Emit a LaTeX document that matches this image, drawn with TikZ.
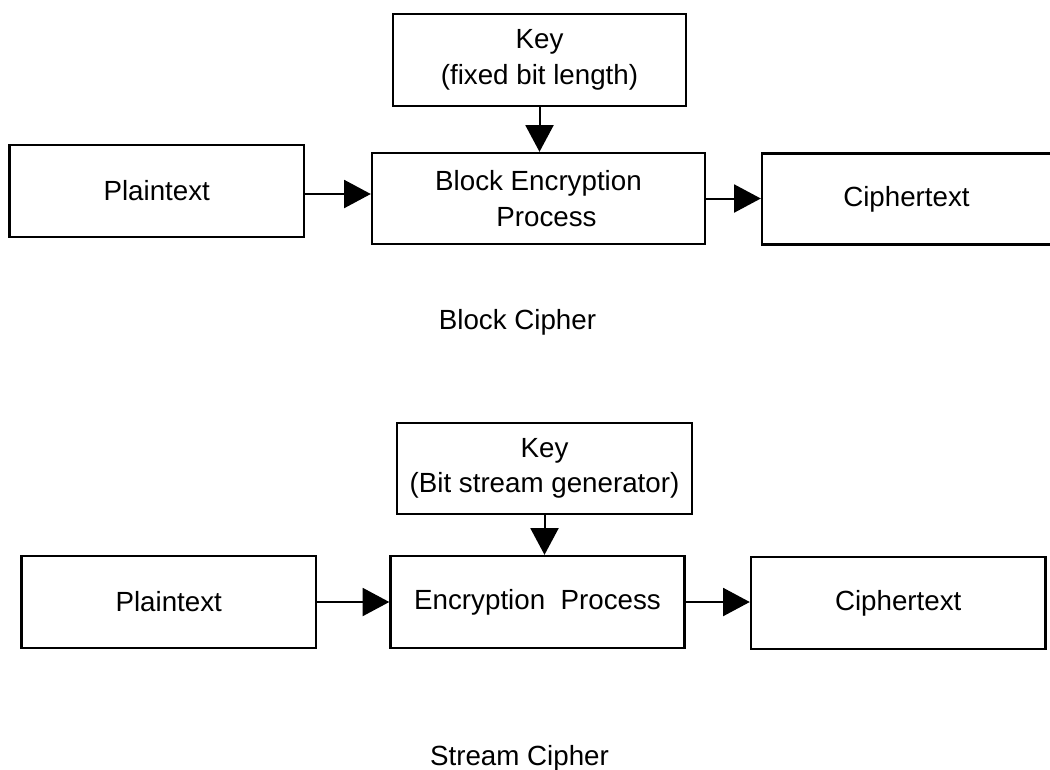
\documentclass[tikz,border=0pt]{standalone}
\usepackage{fontspec}
\setmainfont{Liberation Sans}
\usetikzlibrary{arrows.meta}
\begin{document}
\begin{tikzpicture}[x=0.75pt,y=-0.75pt,
  box/.style={draw=black, line width=1.8pt, align=center, inner sep=2pt,
    font=\fontsize{20.8}{26.6}\selectfont},
  conn/.style={line width=1.5pt, -{Triangle[length=20pt,width=21pt]}},
  caption/.style={anchor=base, inner sep=0pt, font=\fontsize{20.8}{26.6}\selectfont}]
\clip (0,0) rectangle (1050,769);
\fill[white] (0,0) rectangle (1050,769);
% Block cipher
\node[box, minimum width=219.75pt, minimum height=69pt] (key1) at (539.5,60) {Key\\(fixed bit length)};
\node[box, minimum width=220.9pt, minimum height=69pt] (plain1) at (156.75,191) {Plaintext};
\node[box, minimum width=249.75pt, minimum height=68.25pt] (block1) at (538.5,198.5) {Block Encryption\\\hspace*{12pt}Process};
\node[box, minimum width=216.75pt, minimum height=68.25pt] (cipher1) at (906.5,199) {Ciphertext};
\draw[conn] (key1.south) -- (key1.south |- block1.north);
\draw[conn] ([yshift=-2.25pt]plain1.east) -- ([yshift=-2.25pt]plain1.east -| block1.west);
\draw[conn] (block1.east) -- (block1.east -| cipher1.west);
\node[caption] (cap1) at (517.5,329) {Block Cipher};
% Stream cipher
\node[box, minimum width=221.25pt, minimum height=68.25pt] (key2) at (544.5,468.5) {Key\\(Bit stream generator)};
\node[box, minimum width=220.9pt, minimum height=69pt] (plain2) at (168.75,602) {Plaintext};
\node[box, minimum width=220.5pt, minimum height=69pt] (enc2) at (537.5,602) {Encryption\ \ Process};
\node[box, minimum width=220.9pt, minimum height=69pt] (cipher2) at (898.25,603) {Ciphertext};
\draw[conn] (key2.south) -- (key2.south |- enc2.north);
\draw[conn] (plain2.east) -- (plain2.east -| enc2.west);
\draw[conn] (enc2.east) -- (enc2.east -| cipher2.west);
\node[caption] (cap2) at (519.5,765) {Stream Cipher};
\end{tikzpicture}
\end{document}
